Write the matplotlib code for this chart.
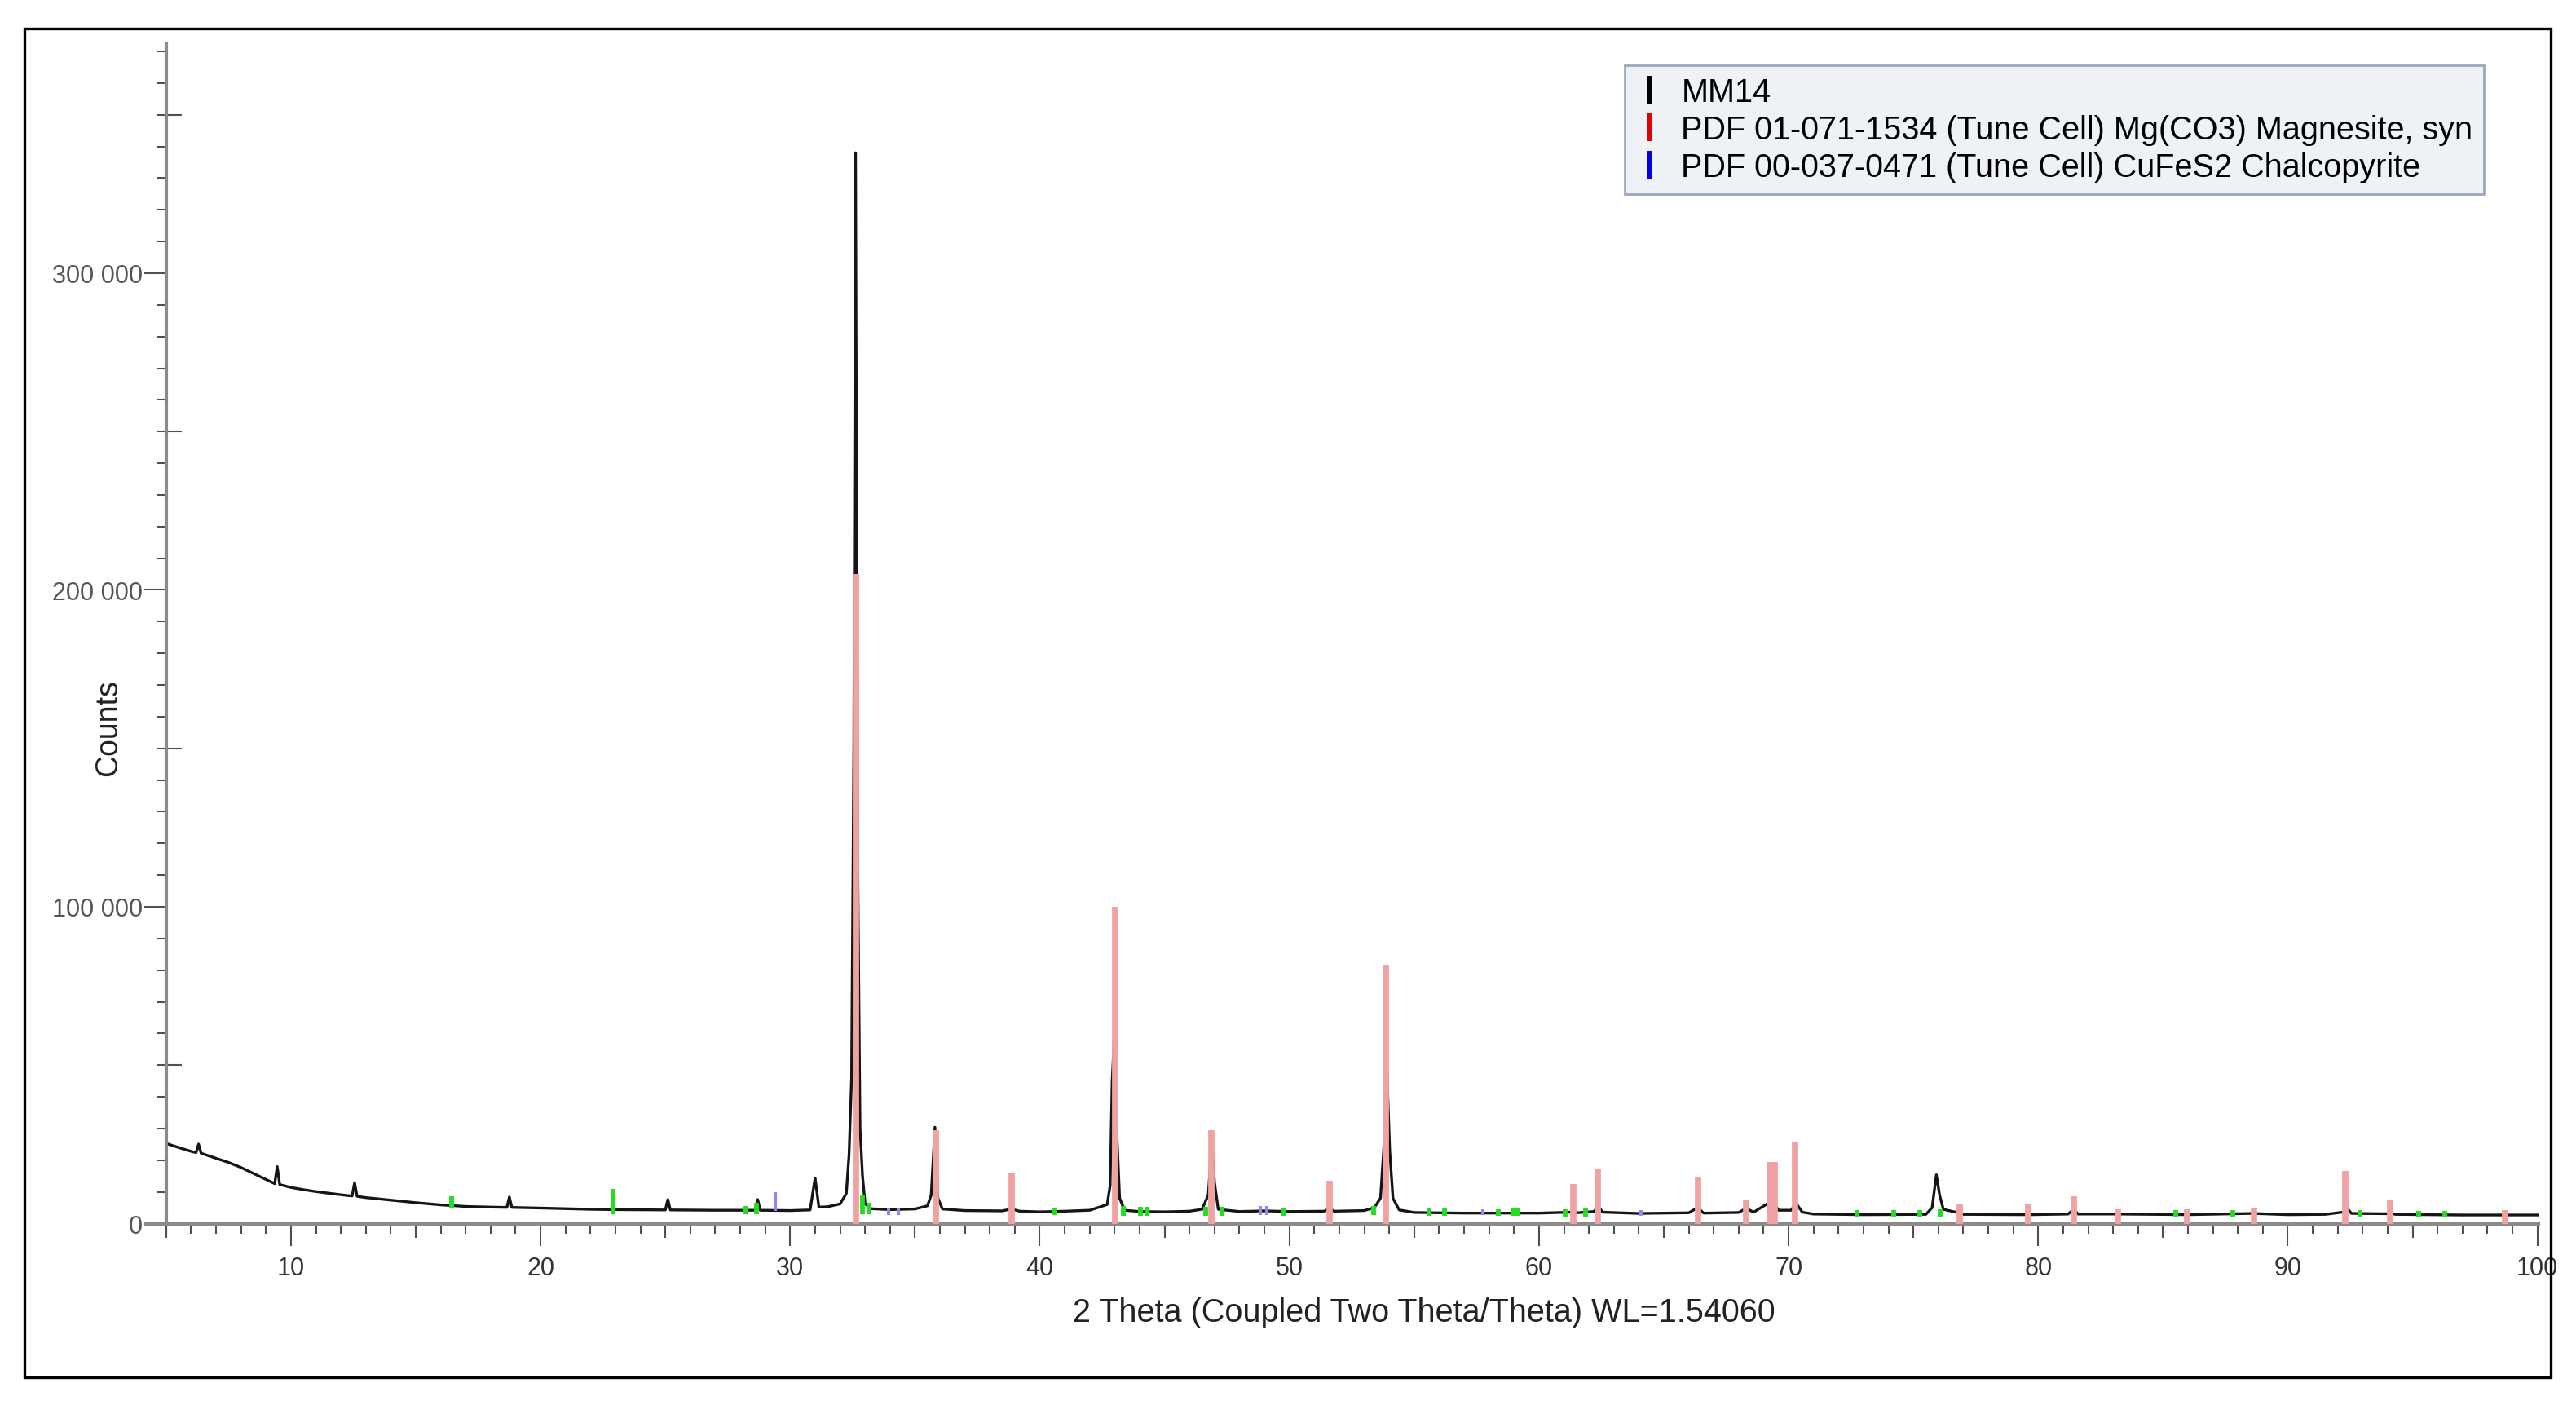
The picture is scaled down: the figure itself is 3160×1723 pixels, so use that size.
import matplotlib
matplotlib.use("Agg")
import matplotlib.pyplot as plt
from matplotlib.lines import Line2D
from matplotlib.patches import Rectangle
from matplotlib.ticker import MultipleLocator, FixedLocator, FuncFormatter, NullFormatter

plt.rcParams["font.family"] = ["Liberation Sans", "DejaVu Sans"]

MM14_2THETA = [
    5.0, 5.5, 6.0, 6.2, 6.3, 6.4, 7.0, 7.5, 8.0, 8.5, 9.0, 9.35, 9.45, 9.55,
    10.0, 10.5, 11.0, 11.5, 12.0, 12.45, 12.55, 12.65, 13.0, 14.0, 15.0, 16.0,
    17.0, 18.0, 18.65, 18.75, 18.85, 20.0, 22.0, 23.0, 25.0, 25.1, 25.2, 27.0,
    28.6, 28.7, 28.8, 30.0, 30.8, 31.0, 31.15, 31.5, 32.0, 32.25, 32.36, 32.46,
    32.55, 32.62, 32.70, 32.80, 32.90, 33.0, 33.2, 34.0, 35.0, 35.5, 35.65,
    35.80, 35.92, 36.1, 37.0, 38.5, 38.85, 39.2, 40.0, 41.0, 42.0, 42.7, 42.82,
    42.9, 42.98, 43.08, 43.2, 43.4, 44.0, 45.0, 46.0, 46.5, 46.75, 46.9, 47.0,
    47.15, 48.0, 49.0, 50.0, 51.4, 51.6, 51.8, 53.0, 53.4, 53.65, 53.78, 53.9,
    54.02, 54.15, 54.4, 55.0, 57.0, 60.0, 61.3, 61.4, 61.5, 62.2, 62.38, 62.55,
    64.0, 66.0, 66.35, 66.6, 68.0, 68.3, 68.6, 69.2, 69.35, 69.6, 70.1, 70.3,
    70.55, 71.0, 73.0, 75.5, 75.75, 75.92, 76.05, 76.2, 76.8, 77.0, 79.5, 79.6,
    79.7, 81.2, 81.42, 81.6, 83.2, 86.0, 88.6, 90.0, 91.5, 92.2, 92.35, 92.55,
    94.0, 94.1, 94.3, 97.0, 100.0,
]
MM14_COUNTS = [
    25300, 24000, 22800, 22400, 25100, 22200, 20600, 19300, 17700, 15800, 13900,
    12600, 18000, 12300, 11400, 10700, 10100, 9600, 9100, 8700, 12900, 8600,
    8200, 7400, 6600, 5900, 5400, 5200, 5100, 8400, 5100, 4900, 4500, 4400, 4300,
    7600, 4300, 4200, 4200, 7600, 4200, 4100, 4300, 14400, 5200, 5300, 6200,
    9500, 21800, 45800, 150000, 338000, 120000, 30000, 15000, 6400, 4700, 4400,
    4600, 5600, 9000, 30400, 8000, 4600, 4100, 4000, 4600, 3900, 3700, 3900,
    4200, 6000, 12000, 45000, 58000, 30000, 8000, 4200, 3800, 3700, 3900, 4500,
    9000, 26000, 13000, 4500, 3800, 4000, 3800, 3900, 4700, 3900, 4100, 5000,
    8000, 23600, 50000, 23000, 8000, 4300, 3500, 3300, 3300, 3600, 4200, 3400,
    3800, 5400, 3600, 3200, 3400, 5000, 3300, 3500, 4800, 3600, 6500, 7300, 4200,
    4200, 6400, 3600, 3000, 2800, 2900, 5000, 15400, 9000, 4500, 3400, 2900,
    2800, 3300, 2800, 3000, 4500, 3000, 3000, 2800, 3200, 2800, 2900, 3600, 5100,
    3200, 3100, 3500, 2900, 2700, 2700,
]

# ── reference sticks ─────────────────────────────────────────────────────
MAGNESITE_POS = [32.62, 35.84, 38.88, 43.02, 46.86, 51.62, 53.88, 61.37, 62.36,
                 66.37, 68.30, 69.26, 69.43, 70.27, 76.86, 79.60, 81.43, 83.20,
                 85.97, 88.65, 92.30, 94.10, 98.70]
MAGNESITE_H = [205000, 29600, 15900, 100000, 29600, 13500, 81500, 12400, 17100,
               14600, 7300, 19500, 19500, 25700, 6400, 6000, 8600, 4500, 4500,
               5100, 16700, 7300, 4300]

CHALCO_POS = [29.40, 33.95, 34.35, 48.85, 49.10, 57.76, 64.10, 79.60]
CHALCO_LO = [3900, 2800, 2800, 2800, 2800, 2800, 2500, 2300]
CHALCO_HI = [9900, 4800, 4800, 5600, 5600, 4500, 4200, 4200]

MARK_POS = [16.43, 22.90, 28.24, 28.66, 32.90, 33.15, 40.60, 43.35, 44.05, 44.30,
            46.64, 47.30, 49.78, 53.38, 55.60, 56.22, 58.38, 58.95, 59.15, 61.05,
            61.85, 69.43, 72.75, 74.20, 75.26, 76.07, 85.50, 87.80, 92.90, 95.24,
            96.30]
MARK_LO = [4700, 3000, 3000, 3000, 3000, 3000, 2800, 2500, 2500, 2500, 2500, 2500,
           2500, 2800, 2500, 2500, 2500, 2500, 2500, 2300, 2300, 2300, 2200, 2200,
           2200, 2200, 2200, 2200, 2200, 2200, 2200]
MARK_HI = [8500, 11000, 5600, 6500, 9000, 6500, 5000, 5600, 5200, 5200, 5200, 5200,
           5000, 5600, 5000, 5000, 4500, 5000, 5000, 4500, 4800, 5000, 4200, 4200,
           4200, 4500, 4200, 4200, 4200, 4000, 4000]

LEGEND_LABELS = [
    "MM14",
    "PDF 01-071-1534 (Tune Cell) Mg(CO3) Magnesite, syn",
    "PDF 00-037-0471 (Tune Cell) CuFeS2 Chalcopyrite",
]
LEGEND_COLORS = ["black", "#e00000", "#0000e0"]

# ── figure ───────────────────────────────────────────────────────────────
W, H = 3160, 1724
fig = plt.figure(figsize=(W / 100, H / 100), dpi=100)
fig.patches.append(Rectangle((30 / W, 1 - 1690 / H), 3099 / W, 1654 / H,
                             transform=fig.transFigure, fill=False,
                             edgecolor="black", linewidth=2.4))

ax = fig.add_axes([179.3 / W, 222.5 / H, 2934.9 / W, 1447.2 / H])
ax.set_xlim(4.2, 100.05)
ax.set_ylim(0, 372500)

ax.plot(MM14_2THETA, MM14_COUNTS, color="#151515", linewidth=2.4, zorder=2)
ax.vlines(MARK_POS, MARK_LO, MARK_HI, color="#22dd22", linewidth=4.2,
          capstyle="butt", zorder=3)
ax.vlines(CHALCO_POS, CHALCO_LO, CHALCO_HI, color="#8c8ce8", linewidth=3.0,
          capstyle="butt", zorder=3)
ax.vlines(MAGNESITE_POS, 0, MAGNESITE_H, color="#f0a2a2", linewidth=5.6,
          capstyle="butt", zorder=4)

# axes styling
AXIS_GRAY = "#8a8a8a"
TICK_GRAY = "#505050"
for s in ("top", "right"):
    ax.spines[s].set_visible(False)
ax.spines["left"].set_position(("data", 5))
ax.spines["left"].set_color(AXIS_GRAY)
ax.spines["left"].set_linewidth(3)
ax.spines["bottom"].set_color(AXIS_GRAY)
ax.spines["bottom"].set_linewidth(3)

ax.xaxis.set_major_locator(FixedLocator(list(range(10, 101, 10))))
ax.xaxis.set_minor_locator(FixedLocator(list(range(5, 101))))
ax.yaxis.set_major_locator(MultipleLocator(100000))
ax.yaxis.set_minor_locator(MultipleLocator(10000))
ax.yaxis.set_major_formatter(
    FuncFormatter(lambda v, _: f"{int(v):,}".replace(",", " ")))

ax.tick_params(axis="x", which="major", length=19.4, width=1.5, color=TICK_GRAY,
               labelsize=22, labelcolor="#333333", pad=9)
ax.tick_params(axis="x", which="minor", length=8.6, width=1.5, color=TICK_GRAY)
ax.tick_params(axis="y", which="major", length=19.4, width=1.5, color=TICK_GRAY,
               labelsize=22, labelcolor="#555555", pad=1.5)
ax.tick_params(axis="y", which="minor", length=8.6, width=1.5, color=TICK_GRAY)

# middle-length ticks at the 5s and the 50 000s
secx = ax.secondary_xaxis("bottom")
secx.xaxis.set_major_locator(FixedLocator(list(range(5, 101, 10))))
secx.xaxis.set_major_formatter(NullFormatter())
secx.tick_params(length=12.2, width=1.5, color=TICK_GRAY)
secx.spines["bottom"].set_visible(False)

secy = ax.secondary_yaxis(5, transform=ax.transData)
secy.yaxis.set_major_locator(FixedLocator([50000, 150000, 250000, 350000]))
secy.yaxis.set_major_formatter(NullFormatter())
secy.tick_params(length=13.7, width=1.5, color=TICK_GRAY)
secy.spines["left"].set_visible(False)

ax.set_xlabel("2 Theta (Coupled Two Theta/Theta) WL=1.54060", fontsize=28.5,
              color="#222222")
ax.xaxis.set_label_coords((1747 - 179.3) / 2934.9, (1501.5 - 1610) / 1447.2)
ax.xaxis.label.set_va("center")
ax.set_ylabel("Counts", fontsize=27, color="#222222")
ax.yaxis.set_label_coords((133 - 179.3) / 2934.9, (1501.5 - 893) / 1447.2)
ax.yaxis.label.set_va("center")

handles = [Line2D([], [], linestyle="none", marker="|", markersize=25,
                  markeredgewidth=4.3, color=c) for c in LEGEND_COLORS]
leg = fig.legend(handles, LEGEND_LABELS, loc="upper left",
                 bbox_to_anchor=(1993 / W, 1 - 81 / H),
                 bbox_transform=fig.transFigure, fontsize=28.5, frameon=True,
                 fancybox=False, borderpad=0.35, borderaxespad=0,
                 handlelength=0.8, handletextpad=0.6, labelspacing=0.2)
leg.get_frame().set_facecolor("#eef1f6")
leg.get_frame().set_edgecolor("#9aa8bd")
leg.get_frame().set_linewidth(2)
leg.get_frame().set_alpha(1)

fig.savefig("out.png", dpi=100)
